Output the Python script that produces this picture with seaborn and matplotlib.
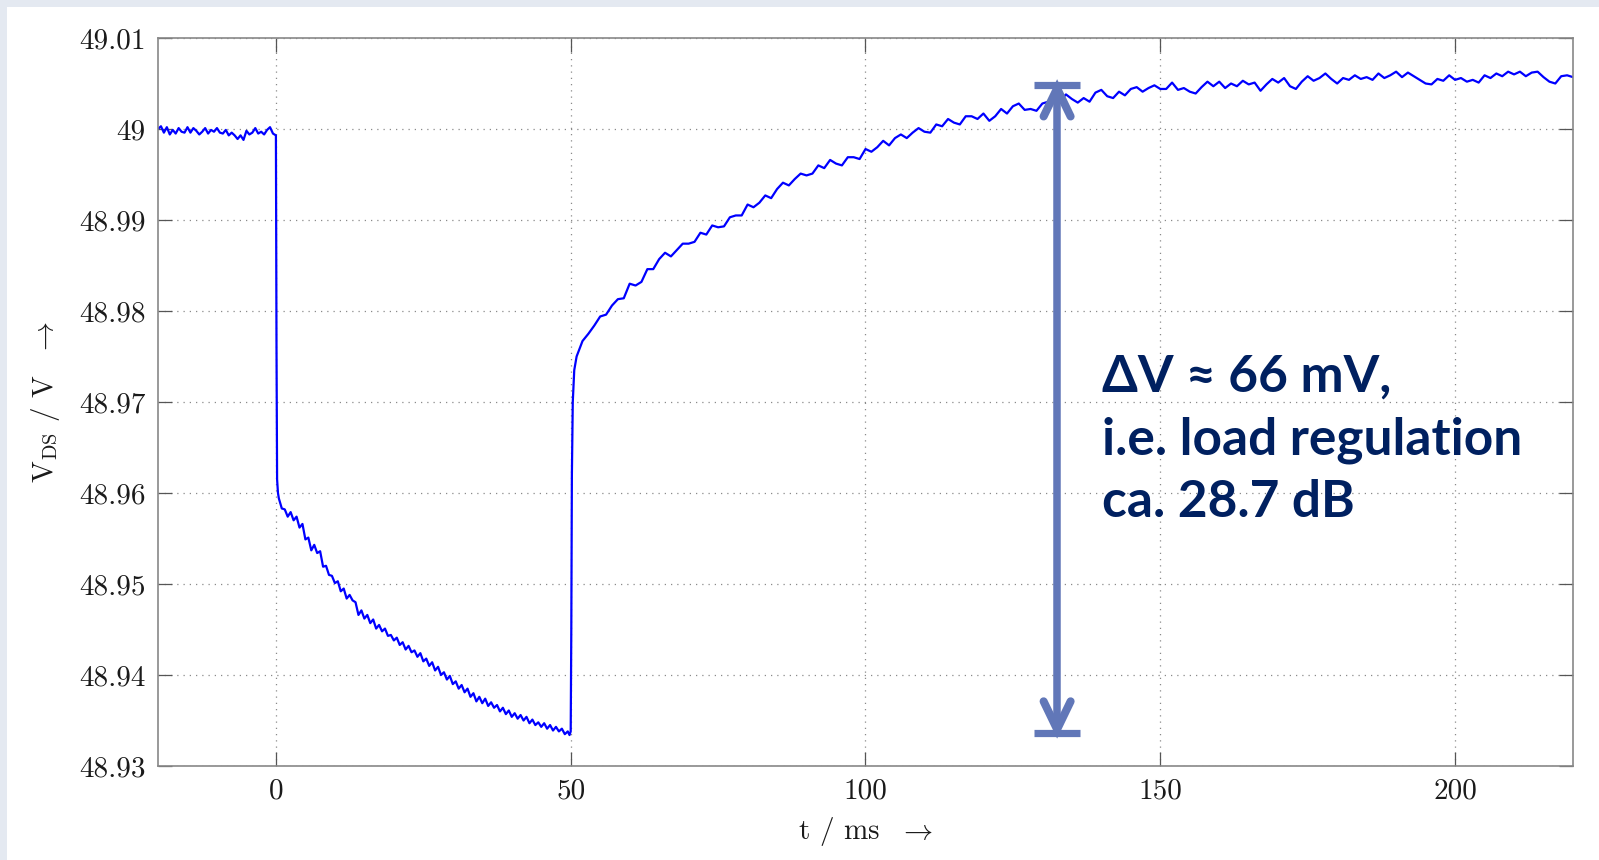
import matplotlib
matplotlib.use("Agg")
import numpy as np
import pandas as pd
import seaborn as sns
import matplotlib.pyplot as plt
from matplotlib.patches import Rectangle

# ---------------- data ----------------
# before the load step: t = -20 ... -0.5 ms, every 0.5 ms
t_pre_start, t_pre_step = -20.0, 0.5
v_pre = [49.0000, 49.0003, 48.9996, 49.0002, 48.9994, 48.9999, 48.9995, 49.0001, 48.9997, 48.9996,
         49.0002, 48.9996, 49.0001, 48.9998, 48.9994, 48.9997, 49.0001, 48.9995, 48.9999, 48.9997,
         49.0001, 48.9996, 48.9995, 48.9999, 48.9993, 48.9996, 48.9993, 48.9989, 48.9993, 48.9988,
         48.9998, 48.9994, 48.9996, 49.0001, 48.9995, 48.9997, 48.9994, 48.9999, 49.0002, 48.9995]
# load switched on at t = 0
t_drop = [0.0, 0.1, 0.2, 0.35]
v_drop = [48.9993, 48.9760, 48.9615, 48.9600]
# under load: t = 0.5 ... 49.5 ms, every 0.5 ms
t_load_start, t_load_step = 0.5, 0.5
v_load = [48.9594, 48.9583, 48.9582, 48.9574, 48.9579, 48.9570, 48.9574, 48.9562, 48.9566, 48.9549,
          48.9551, 48.9537, 48.9543, 48.9534, 48.9536, 48.9519, 48.9520, 48.9510, 48.9509, 48.9501,
          48.9503, 48.9492, 48.9495, 48.9484, 48.9488, 48.9482, 48.9480, 48.9466, 48.9471, 48.9462,
          48.9466, 48.9457, 48.9461, 48.9451, 48.9455, 48.9448, 48.9451, 48.9443, 48.9444, 48.9438,
          48.9441, 48.9433, 48.9436, 48.9428, 48.9432, 48.9425, 48.9427, 48.9420, 48.9424, 48.9415,
          48.9418, 48.9410, 48.9414, 48.9405, 48.9409, 48.9400, 48.9403, 48.9395, 48.9399, 48.9390,
          48.9393, 48.9385, 48.9389, 48.9381, 48.9385, 48.9376, 48.9380, 48.9371, 48.9376, 48.9369,
          48.9374, 48.9366, 48.9370, 48.9364, 48.9367, 48.9360, 48.9364, 48.9357, 48.9361, 48.9354,
          48.9358, 48.9352, 48.9356, 48.9350, 48.9354, 48.9347, 48.9351, 48.9345, 48.9348, 48.9343,
          48.9347, 48.9341, 48.9345, 48.9339, 48.9343, 48.9338, 48.9341, 48.9335, 48.9338]
# load switched off at t = 50 ms
t_rise = [49.8, 50.0, 50.1, 50.2, 50.35, 50.6, 51.0]
v_rise = [48.9334, 48.9338, 48.9450, 48.9620, 48.9700, 48.9735, 48.9750]
# recovery: t = 52 ... 220 ms, every 1 ms
t_rec_start, t_rec_step = 52.0, 1.0
v_rec = [48.9767, 48.9775, 48.9784, 48.9794, 48.9796, 48.9806, 48.9813, 48.9814, 48.9830, 48.9828,
         48.9832, 48.9846, 48.9846, 48.9857, 48.9864, 48.9860, 48.9867, 48.9874, 48.9874, 48.9876,
         48.9886, 48.9884, 48.9894, 48.9892, 48.9893, 48.9903, 48.9905, 48.9905, 48.9917, 48.9914,
         48.9919, 48.9927, 48.9924, 48.9934, 48.9941, 48.9938, 48.9945, 48.9951, 48.9949, 48.9951,
         48.9960, 48.9957, 48.9966, 48.9962, 48.9960, 48.9969, 48.9969, 48.9967, 48.9978, 48.9975,
         48.9980, 48.9987, 48.9982, 48.9990, 48.9994, 48.9990, 48.9996, 49.0001, 48.9997, 48.9996,
         49.0005, 49.0003, 49.0011, 49.0007, 49.0005, 49.0014, 49.0014, 49.0011, 49.0017, 49.0009,
         49.0014, 49.0022, 49.0017, 49.0025, 49.0028, 49.0021, 49.0022, 49.0020, 49.0028, 49.0030,
         49.0035, 49.0031, 49.0038, 49.0033, 49.0029, 49.0034, 49.0030, 49.0040, 49.0043, 49.0036,
         49.0034, 49.0041, 49.0037, 49.0044, 49.0046, 49.0041, 49.0045, 49.0048, 49.0044, 49.0044,
         49.0051, 49.0043, 49.0045, 49.0041, 49.0039, 49.0046, 49.0052, 49.0047, 49.0052, 49.0045,
         49.0050, 49.0047, 49.0053, 49.0049, 49.0051, 49.0042, 49.0049, 49.0055, 49.0051, 49.0056,
         49.0047, 49.0044, 49.0052, 49.0058, 49.0053, 49.0056, 49.0061, 49.0055, 49.0050, 49.0056,
         49.0054, 49.0059, 49.0055, 49.0057, 49.0054, 49.0061, 49.0056, 49.0059, 49.0063, 49.0057,
         49.0062, 49.0058, 49.0054, 49.0050, 49.0049, 49.0055, 49.0053, 49.0059, 49.0054, 49.0056,
         49.0052, 49.0054, 49.0051, 49.0059, 49.0056, 49.0061, 49.0058, 49.0063, 49.0060, 49.0063,
         49.0058, 49.0062, 49.0063, 49.0057, 49.0052, 49.0050, 49.0058, 49.0059, 49.0057]

x_ticks = [0, 50, 100, 150, 200]
x_ticklabels = ["0", "50", "100", "150", "200"]
y_ticks = [48.93, 48.94, 48.95, 48.96, 48.97, 48.98, 48.99, 49.00, 49.01]
y_ticklabels = ["48.93", "48.94", "48.95", "48.96", "48.97", "48.98", "48.99", "49", "49.01"]
x_limits = (-20, 220)
y_limits = (48.93, 49.01)

# annotation (double arrow marking the voltage excursion)
arrow_t = 132.5
arrow_top = 49.00484
arrow_bottom = 48.93359
note_text = "ΔV ≈ 66 mV,\ni.e. load regulation\nca. 28.7 dB"

# ---------------- assemble ----------------
t_pre = t_pre_start + t_pre_step * np.arange(len(v_pre))
t_load = t_load_start + t_load_step * np.arange(len(v_load))
t_rec = t_rec_start + t_rec_step * np.arange(len(v_rec))
df = pd.DataFrame({
    "t": np.concatenate([t_pre, t_drop, t_load, t_rise, t_rec]),
    "v": np.concatenate([v_pre, v_drop, v_load, v_rise, v_rec]),
})

sns.set_theme(style="white")
plt.rcParams["font.family"] = ["cmr10", "DejaVu Sans"]
plt.rcParams["mathtext.fontset"] = "cm"
plt.rcParams["axes.formatter.use_mathtext"] = True

W, H = 1599, 860
fig = plt.figure(figsize=(W / 100, H / 100), dpi=100, facecolor="#e4e9f1")
fig.add_artist(Rectangle((7 / W, 0), 1, 1 - 7 / H, transform=fig.transFigure,
                         facecolor="white", edgecolor="none", zorder=-10))
ax = fig.add_axes([158 / W, 1 - 766 / H, (1573 - 158) / W, (766 - 38) / H])
ax.set_facecolor("white")

sns.lineplot(data=df, x="t", y="v", ax=ax, color="#0000ff", linewidth=1.6,
             estimator=None, sort=False, zorder=2)

ax.set_xlim(*x_limits)
ax.set_ylim(*y_limits)
ax.set_xticks(x_ticks)
ax.set_xticklabels(x_ticklabels)
ax.set_yticks(y_ticks)
ax.set_yticklabels(y_ticklabels)
ax.tick_params(direction="in", length=10, width=0.9, color="#555555",
               top=True, right=True, bottom=True, left=True,
               labelsize=21, pad=9, labelcolor="#1a1a1a")
ax.grid(True, linestyle=(0, (1, 4)), color="#8a8a8a", linewidth=0.9)
for s in ax.spines.values():
    s.set_color("#888888")
    s.set_linewidth(1.2)

ax.set_xlabel(r"t / ms  $\rightarrow$", fontsize=21, color="#1a1a1a")
ax.set_ylabel(r"V$_{\mathrm{DS}}$ / V  $\rightarrow$", fontsize=21, color="#1a1a1a")
ax.xaxis.set_label_coords(0.5, -(831 - 766) / 728)
ax.xaxis.label.set_va("center")
ax.yaxis.set_label_coords((46 - 158) / 1415, 0.5)
ax.yaxis.label.set_va("center")

# double arrow
px_x = (x_limits[1] - x_limits[0]) / 1415.0
px_y = (y_limits[1] - y_limits[0]) / 728.0
acol = "#6177b8"
tip_top = arrow_top - 3.5 * px_y
tip_bot = arrow_bottom + 4.0 * px_y
ax.plot([arrow_t, arrow_t], [tip_top - 4 * px_y, tip_bot + 4 * px_y], color=acol, lw=5.4,
        solid_capstyle="butt", zorder=4)
for tip, sgn in ((tip_top, -1), (tip_bot, 1)):
    ax.plot([arrow_t - 13.5 * px_x, arrow_t, arrow_t + 13.5 * px_x],
            [tip + sgn * 28 * px_y, tip, tip + sgn * 28 * px_y],
            color=acol, lw=5.8, solid_capstyle="round", solid_joinstyle="miter", zorder=4)
for yb in (arrow_top, arrow_bottom):
    ax.plot([arrow_t - 22.7 * px_x, arrow_t + 22.7 * px_x], [yb, yb], color=acol, lw=5.2,
            solid_capstyle="butt", zorder=4)

ax.text(x_limits[0] + (1102 - 158) * px_x, y_limits[1] - (354 - 38) * px_y, note_text,
        family=["Lato", "DejaVu Sans"], weight="bold", fontsize=37, color="#002060",
        ha="left", va="top", linespacing=1.4, zorder=5)

fig.savefig("out.png", dpi=100, facecolor=fig.get_facecolor())
